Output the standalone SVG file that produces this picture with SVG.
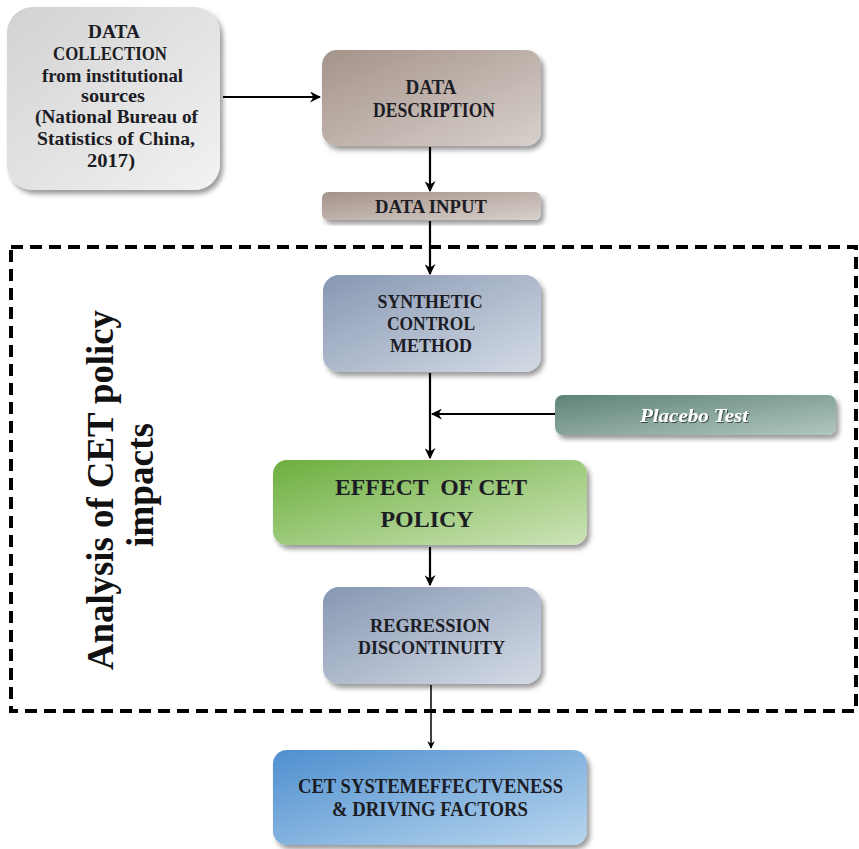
<svg xmlns="http://www.w3.org/2000/svg" width="859" height="849" viewBox="0 0 859 849">
<defs>
<style>
.t{font-family:"Liberation Serif","Times New Roman",serif;font-weight:bold;fill:#1c1c24;text-anchor:middle}
.c{stroke:#000;stroke-width:2.2;fill:none}
</style>
<filter id="sh" x="-10%" y="-10%" width="125%" height="130%">
<feDropShadow dx="3" dy="4" stdDeviation="2.5" flood-color="#000" flood-opacity="0.4"/>
</filter>
<filter id="tsh" x="-10%" y="-20%" width="120%" height="150%">
<feDropShadow dx="1" dy="1" stdDeviation="0.6" flood-color="#000" flood-opacity="0.6"/>
</filter>
<marker id="ar" viewBox="0 0 10 10" refX="9" refY="5" markerWidth="5" markerHeight="5" orient="auto" markerUnits="strokeWidth">
<path d="M0,0 L10,5 L0,10 L3,5 Z" fill="#000"/>
</marker>
<linearGradient id="gGray" x1="0" y1="0" x2="1" y2="1"><stop offset="0" stop-color="#d2d2d2"/><stop offset="1" stop-color="#f2f2f2"/></linearGradient>
<linearGradient id="gBrown" x1="0" y1="0" x2="1" y2="1"><stop offset="0" stop-color="#a49389"/><stop offset="1" stop-color="#d8d0cc"/></linearGradient>
<linearGradient id="gSlate" x1="0" y1="0" x2="1" y2="1"><stop offset="0" stop-color="#8797b2"/><stop offset="1" stop-color="#d4dbe6"/></linearGradient>
<linearGradient id="gTeal" x1="0" y1="0" x2="1" y2="1"><stop offset="0" stop-color="#5f8378"/><stop offset="1" stop-color="#b0c7c0"/></linearGradient>
<linearGradient id="gGreen" x1="0" y1="0" x2="1" y2="1"><stop offset="0" stop-color="#6caf3e"/><stop offset="1" stop-color="#cde4b8"/></linearGradient>
<linearGradient id="gBlue" x1="0" y1="0" x2="1" y2="1"><stop offset="0" stop-color="#4f8fcf"/><stop offset="1" stop-color="#b8d6ee"/></linearGradient>
</defs>
<rect width="859" height="849" fill="#fff"/>

<rect id="frame" x="11" y="247" width="845" height="464" fill="none" stroke="#000" stroke-width="4" stroke-dasharray="12,7"/>

<g id="label-analysis" transform="translate(100,490) rotate(-90)">
<text class="t" x="0" y="13" font-size="37" style="fill:#111" textLength="360" lengthAdjust="spacingAndGlyphs">Analysis of CET policy</text>
<text class="t" x="5" y="53" font-size="37" style="fill:#111" textLength="124" lengthAdjust="spacingAndGlyphs">impacts</text>
</g>

<g id="connectors">
<line class="c" x1="223" y1="97" x2="320" y2="97" marker-end="url(#ar)"/>
<line class="c" x1="430" y1="147" x2="430" y2="191" marker-end="url(#ar)"/>
<line class="c" x1="430" y1="221" x2="430" y2="274" marker-end="url(#ar)"/>
<line class="c" x1="430" y1="373" x2="430" y2="458" marker-end="url(#ar)"/>
<line class="c" x1="556" y1="414" x2="432" y2="414" marker-end="url(#ar)"/>
<line class="c" x1="430" y1="547" x2="430" y2="585" marker-end="url(#ar)"/>
<line x1="431" y1="685" x2="431" y2="748" stroke="#000" stroke-width="1.5" marker-end="url(#ar)"/>
</g>

<g id="n-collection">
<rect x="7" y="7" width="213" height="183" rx="26" fill="url(#gGray)" filter="url(#sh)"/>
<text class="t" font-size="19" x="114" y="38" textLength="52" lengthAdjust="spacingAndGlyphs">DATA</text>
<text class="t" font-size="19" x="110" y="60" textLength="114" lengthAdjust="spacingAndGlyphs">COLLECTION</text>
<text class="t" font-size="19" x="112.5" y="82" textLength="141" lengthAdjust="spacingAndGlyphs">from institutional</text>
<text class="t" font-size="19" x="113" y="102" textLength="64" lengthAdjust="spacingAndGlyphs">sources</text>
<text class="t" font-size="19" x="116.5" y="123" textLength="163" lengthAdjust="spacingAndGlyphs">(National Bureau of</text>
<text class="t" font-size="19" x="116" y="145" textLength="158" lengthAdjust="spacingAndGlyphs">Statistics of China,</text>
<text class="t" font-size="19" x="111" y="167" textLength="48" lengthAdjust="spacingAndGlyphs">2017)</text>
</g>

<g id="n-description">
<rect x="322" y="50" width="219" height="96" rx="15" fill="url(#gBrown)" filter="url(#sh)"/>
<text class="t" font-size="20" x="431" y="94" textLength="51" lengthAdjust="spacingAndGlyphs">DATA</text>
<text class="t" font-size="20" x="434" y="117" textLength="122" lengthAdjust="spacingAndGlyphs">DESCRIPTION</text>
</g>

<g id="n-input">
<rect x="322" y="192" width="219" height="28" rx="6" fill="url(#gBrown)" filter="url(#sh)"/>
<text class="t" font-size="19" x="431" y="213" textLength="112" lengthAdjust="spacingAndGlyphs">DATA INPUT</text>
</g>

<g id="n-synthetic">
<rect x="323" y="275" width="218" height="97" rx="16" fill="url(#gSlate)" filter="url(#sh)"/>
<text class="t" font-size="19" x="430" y="308" textLength="105" lengthAdjust="spacingAndGlyphs">SYNTHETIC</text>
<text class="t" font-size="19" x="431" y="330" textLength="88" lengthAdjust="spacingAndGlyphs">CONTROL</text>
<text class="t" font-size="19" x="431" y="352" textLength="82" lengthAdjust="spacingAndGlyphs">METHOD</text>
</g>

<g id="n-placebo">
<rect x="555" y="395" width="281" height="40" rx="8" fill="url(#gTeal)" filter="url(#sh)"/>
<text x="694" y="422" font-family="'Liberation Serif','Times New Roman',serif" font-weight="bold" font-style="italic" font-size="18" fill="#fff" text-anchor="middle" filter="url(#tsh)" textLength="108" lengthAdjust="spacingAndGlyphs">Placebo Test</text>
</g>

<g id="n-effect">
<rect x="273" y="460" width="314" height="85" rx="14" fill="url(#gGreen)" filter="url(#sh)"/>
<text class="t" font-size="23" x="431" y="495" xml:space="preserve" textLength="192" lengthAdjust="spacingAndGlyphs">EFFECT  OF CET</text>
<text class="t" font-size="23" x="427" y="527" textLength="93" lengthAdjust="spacingAndGlyphs">POLICY</text>
</g>

<g id="n-regression">
<rect x="323" y="587" width="218" height="97" rx="16" fill="url(#gSlate)" filter="url(#sh)"/>
<text class="t" font-size="19" x="430" y="632" textLength="120" lengthAdjust="spacingAndGlyphs">REGRESSION</text>
<text class="t" font-size="19" x="431.5" y="654" textLength="147" lengthAdjust="spacingAndGlyphs">DISCONTINUITY</text>
</g>

<g id="n-cet">
<rect x="273" y="750" width="314" height="95" rx="14" fill="url(#gBlue)" filter="url(#sh)"/>
<text class="t" font-size="20" x="430.5" y="793" textLength="265" lengthAdjust="spacingAndGlyphs">CET SYSTEMEFFECTVENESS</text>
<text class="t" font-size="20" x="430" y="816" textLength="196" lengthAdjust="spacingAndGlyphs">&amp; DRIVING FACTORS</text>
</g>
</svg>
